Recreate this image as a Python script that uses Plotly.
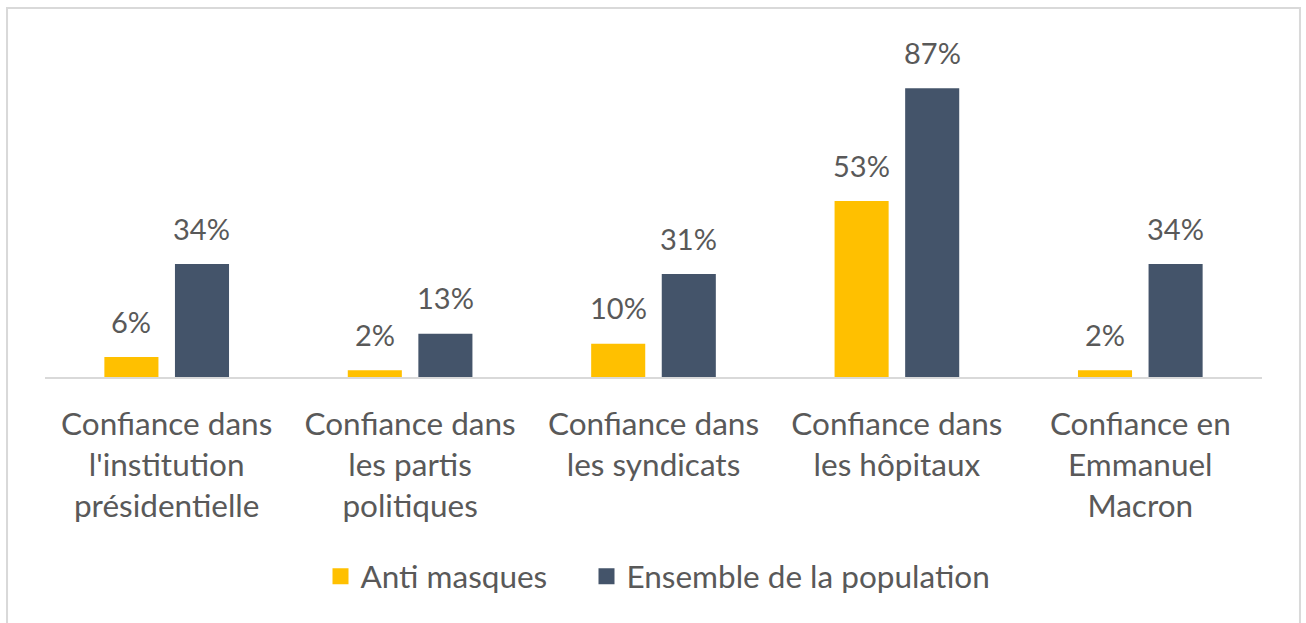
import plotly.graph_objects as go

categories = [
    "Confiance dans<br>l'institution<br>présidentielle",
    "Confiance dans<br>les partis<br>politiques",
    "Confiance dans<br>les syndicats",
    "Confiance dans<br>les hôpitaux",
    "Confiance en<br>Emmanuel<br>Macron",
]
anti_masques = [6, 2, 10, 53, 2]
ensemble = [34, 13, 31, 87, 34]
series_names = ["Anti masques", "Ensemble de la population"]
colors = ["#FFC000", "#44546A"]

FONT = "Lato"
TXT = "#595959"
LABEL_SIZE = 31.5
VALUE_SIZE = 29

fig = go.Figure()
for name, vals, col in zip(series_names, [anti_masques, ensemble], colors):
    fig.add_trace(go.Bar(
        x=categories, y=vals, name=name,
        marker=dict(color=col, line=dict(width=0)),
        hoverinfo="x+y", showlegend=False,
    ))
# legend entries with larger square keys, one legend box each
legend_ids = ["legend", "legend2"]
for name, col, lid in zip(series_names, colors, legend_ids):
    fig.add_trace(go.Scatter(
        x=[None], y=[None], name=name, mode="markers",
        marker=dict(symbol="square", size=17, color=col),
        showlegend=True, legend=lid,
    ))

# value labels above bars
for shift, vals in zip([-35.25, 35.25], [anti_masques, ensemble]):
    for cat, v in zip(categories, vals):
        fig.add_annotation(x=cat, y=v, text=f"{v}%", showarrow=False,
                           xshift=shift, yshift=36, yanchor="middle",
                           font=dict(family=FONT, size=VALUE_SIZE, color=TXT))

legend_common = dict(orientation="h", xanchor="left", y=-0.6, yanchor="middle",
                     font=dict(family=FONT, size=LABEL_SIZE, color=TXT), itemwidth=30,
                     bgcolor="rgba(0,0,0,0)")

fig.update_layout(
    width=1306, height=623,
    margin=dict(l=45, r=44, t=45, b=246),
    paper_bgcolor="white", plot_bgcolor="white",
    barmode="group", bargap=0.42, bargroupgap=0.234,
    font=dict(family=FONT, size=LABEL_SIZE, color=TXT),
    showlegend=True,
    legend=dict(x=(340.5 - 20 - 45) / 1217, **legend_common),
    legend2=dict(x=(606.5 - 20 - 45) / 1217, **legend_common),
    xaxis=dict(showline=True, linecolor="#D9D9D9", linewidth=2, ticks="",
               tickfont=dict(family=FONT, size=LABEL_SIZE, color=TXT), showgrid=False,
               ticklabelstandoff=18),
    yaxis=dict(range=[0, 100], visible=False, showgrid=False, zeroline=False),
    shapes=[dict(type="rect", xref="paper", yref="paper",
                 x0=-0.0312, x1=1.0312, y0=-0.75, y1=1.1114,
                 line=dict(color="#D9D9D9", width=2), fillcolor="rgba(0,0,0,0)")],
)

fig.write_html("out.html", config={"displayModeBar": False},
               post_script="document.body.style.margin='0';document.body.style.overflow='hidden';")
